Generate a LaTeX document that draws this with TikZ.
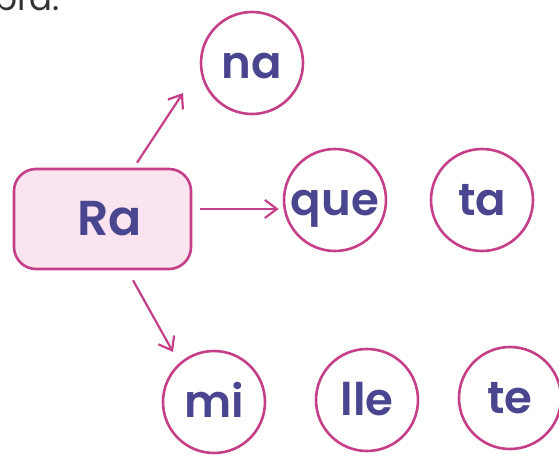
\documentclass[tikz,border=0pt]{standalone}
\usepackage{fontspec}
\setmainfont{Poppins}
\newfontfamily\syllfont{Poppins SemiBold}
\usetikzlibrary{arrows.meta, positioning}
\definecolor{rosepink}{HTML}{C43F88}
\definecolor{lightrose}{HTML}{F9E4EF}
\definecolor{inkblue}{HTML}{4A458F}
\definecolor{darkgrey}{HTML}{333333}

\begin{document}
\begin{tikzpicture}[x=1pt, y=-1pt,
		syllable/.style={draw=rosepink, line width=2.6pt, circle, minimum size=102pt,
			inner sep=0pt, text=inkblue, text height=30pt, text depth=0pt,
			font=\syllfont\fontsize{45}{45}\selectfont},
		link/.style={draw=rosepink, line width=2.2pt, -{Straight Barb[length=12pt, width=18pt]}}]
	\useasboundingbox (0,0) rectangle (559,455);

	% cut-off line of text above
	\node[anchor=base west, inner sep=0pt, text=darkgrey,
	font=\fontsize{34}{34}\selectfont] (prevline) at (-6,10) {bra.};

	\node[draw=rosepink, fill=lightrose, line width=2.6pt, rounded corners=22pt,
	minimum width=177pt, minimum height=100pt, text=inkblue,
	text height=32pt, text depth=0pt, font=\syllfont\fontsize{49}{49}\selectfont] (ra) at (102.5,219) {\hspace*{14pt}Ra};

	\node[syllable] (na) at (252,63) {na};
	\node[syllable] (que) at (335,200) {que};
	\node[syllable] (ta) at (482,200) {ta};
	\node[syllable] (mi) at (214,402) {mi};
	\node[syllable] (lle) at (367,400) {lle};
	\node[syllable] (te) at (510,398) {te};

	\draw[link] ([xshift=34.5pt, yshift=5pt]ra.north) -- ([xshift=-69pt, yshift=-30pt]na.center);
	\draw[link] ([xshift=8pt, yshift=10pt]ra.east) -- ([xshift=-4pt, yshift=-9pt]que.west);
	\draw[link] ([xshift=30.5pt, yshift=-10pt]ra.south) -- ([xshift=-41pt, yshift=50pt]mi.center);
\end{tikzpicture}
\end{document}
